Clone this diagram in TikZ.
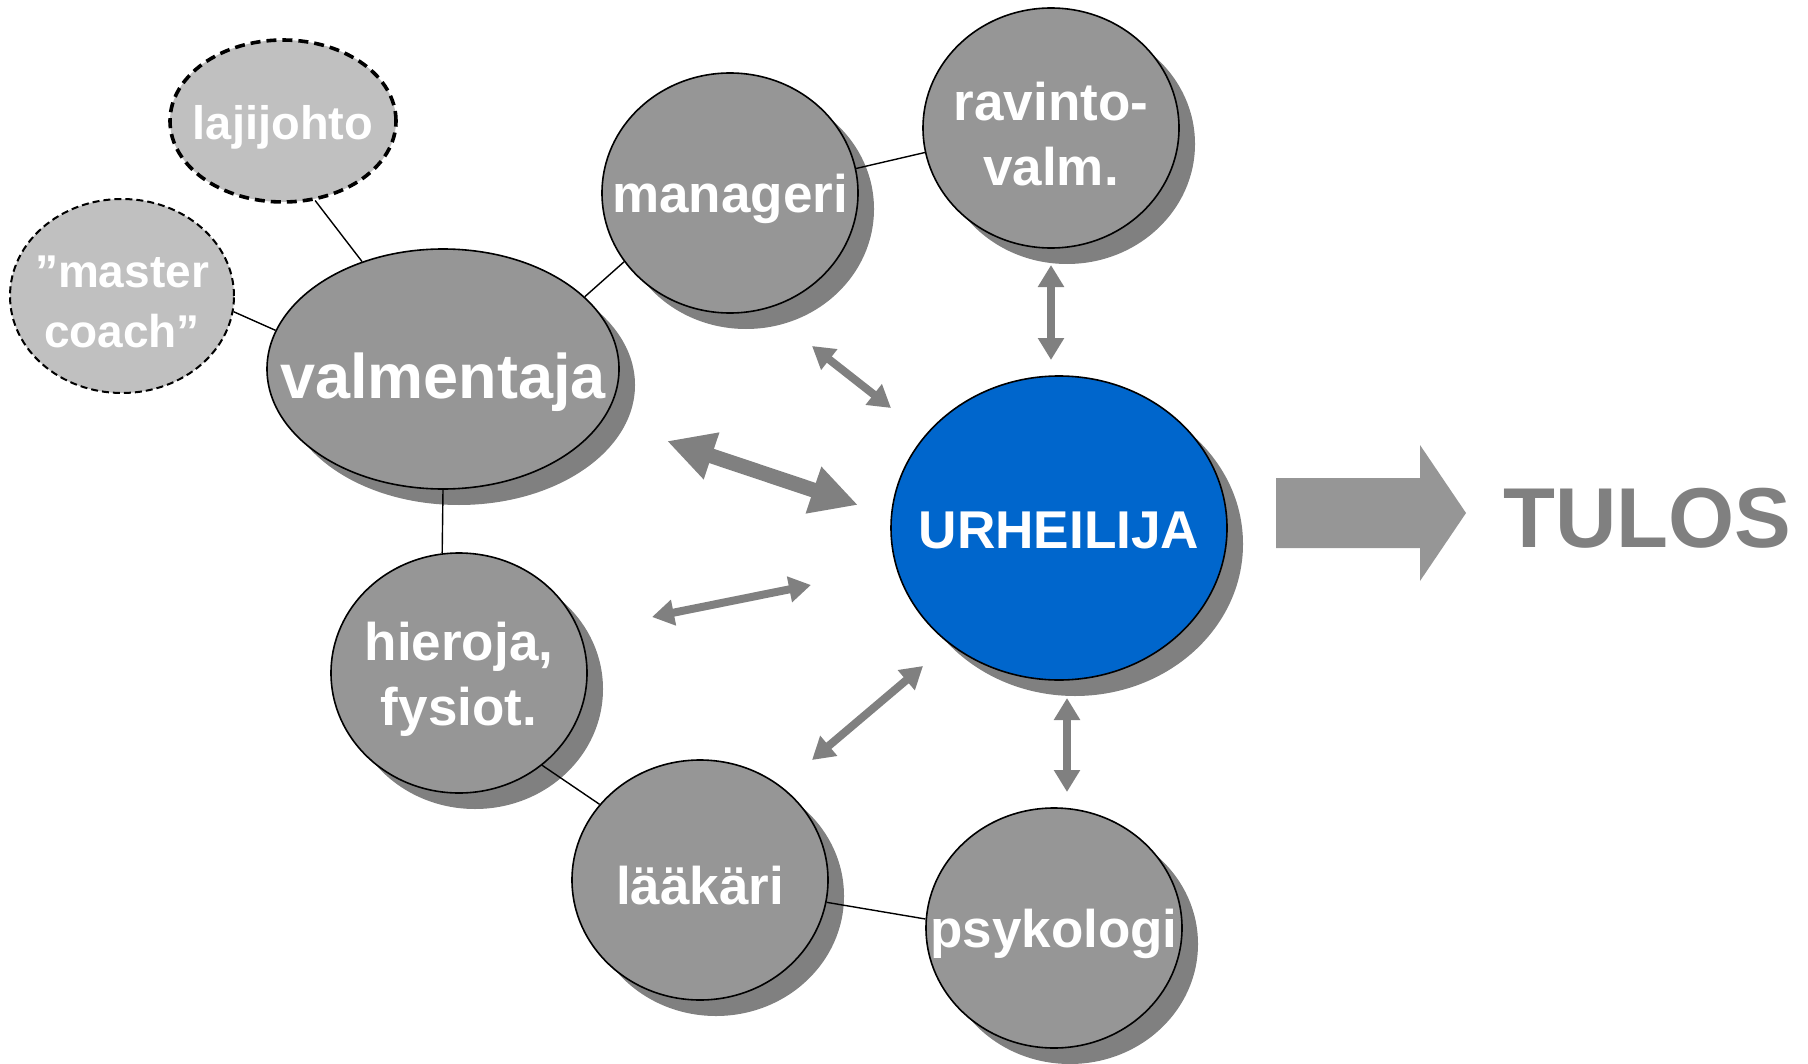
\documentclass[tikz,border=0pt]{standalone}
\usepackage{fontspec}
\setmainfont{Liberation Sans}
\usetikzlibrary{shapes.geometric,shadows,arrows.meta}
\definecolor{blobgray}{HTML}{969696}
\definecolor{shadegray}{HTML}{808080}
\definecolor{palegray}{HTML}{C0C0C0}
\definecolor{athblue}{HTML}{0066CC}
\begin{document}
\begin{tikzpicture}[x=.5pt,y=-.5pt,
  blob/.style={ellipse,draw,line width=.8pt,fill=blobgray,inner sep=0pt,
    minimum width=128pt,minimum height=120pt,
    drop shadow={shadow xshift=8pt,shadow yshift=-8pt,fill=shadegray,opacity=1}},
  dashblob/.style={ellipse,draw,fill=palegray,inner sep=0pt},
  txt/.style={text=white,font=\bfseries\fontsize{26.5}{32.5}\selectfont,align=center,inner sep=0pt,yshift=-3pt},
  link/.style={line width=.7pt},
  dbl/.style={draw=shadegray,line width=4pt,{Triangle[length=11pt,width=12.5pt]}-{Triangle[length=11pt,width=12.5pt]}},
  bigdbl/.style={draw=shadegray,line width=7.5pt,{Triangle[length=23.5pt,width=23pt]}-{Triangle[length=23.5pt,width=23pt]}}]
  \useasboundingbox (0,0) rectangle (1808,1064);
  % people round the athlete
  \node[dashblob,line width=1.8pt,dash pattern=on 5pt off 3pt,minimum width=113pt,minimum height=81pt,
    label={[txt,font=\bfseries\fontsize{23.5}{28}\selectfont]center:lajijohto}] (laji) at (283,121) {};
  \node[dashblob,line width=1pt,dash pattern=on 3.5pt off 2pt,minimum width=112pt,minimum height=97pt,
    label={[txt,font=\bfseries\fontsize{23}{30}\selectfont]center:”master\\coach”}] (master) at (122,296) {};
  \node[blob,minimum width=176pt,
    label={[txt,font=\bfseries\fontsize{31.5}{36}\selectfont,yshift=-3.5pt]center:valmentaja}] (valm) at (443,369) {};
  \node[blob,label={[txt]center:manageri}] (mgr) at (730,193) {};
  \node[blob,label={[txt]center:ravinto-\\valm.}] (rav) at (1051,128) {};
  \node[blob,label={[txt]center:hieroja,\\fysiot.}] (hier) at (459,673) {};
  \node[blob,label={[txt]center:lääkäri}] (laak) at (700,880) {};
  \node[blob,label={[txt]center:psykologi}] (psyk) at (1054,928) {};
  \node[blob,fill=athblue,minimum width=168pt,minimum height=152pt,
    label={[txt,font=\bfseries\fontsize{26.6}{30}\selectfont,yshift=2pt]center:URHEILIJA}] (urh) at (1059,528) {};
  % thin links
  \draw[link] (laji.-68) -- (valm.127);
  \draw[link] (master.-8) -- (valm.167);
  \draw[link] (valm.27) -- (mgr.213);
  \draw[link] (mgr.11) -- (rav.191);
  \draw[link] (valm.south) -- (hier.98);
  \draw[link] (hier.-48) -- (laak.143);
  \draw[link] (laak.-10) -- (psyk.176);
  % two-way arrows
  \coordinate (ravA) at (1051,265); \coordinate (ravB) at (1051,360);
  \coordinate (mgrA) at (812,346);  \coordinate (mgrB) at (891,408);
  \coordinate (valA) at (667,441);  \coordinate (valB) at (858,505);
  \coordinate (hieA) at (652,617);  \coordinate (hieB) at (811,585);
  \coordinate (laaA) at (812,760);  \coordinate (laaB) at (923,666);
  \coordinate (psyA) at (1067,698); \coordinate (psyB) at (1067,792);
  \draw[dbl] (ravA) -- (ravB);
  \draw[dbl] (mgrA) -- (mgrB);
  \draw[bigdbl] (valA) -- (valB);
  \draw[dbl] (hieA) -- (hieB);
  \draw[dbl] (laaA) -- (laaB);
  \draw[dbl] (psyA) -- (psyB);
  % result
  \fill[blobgray] (1276,478) -- (1420,478) -- (1420,445) -- (1466,513) -- (1420,581) -- (1420,548) -- (1276,548) -- cycle;
  \node[anchor=west,inner sep=0pt,text=shadegray,font=\bfseries\fontsize{42.5}{50}\selectfont] (tulos) at (1503,518) {TULOS};
\end{tikzpicture}
\end{document}
